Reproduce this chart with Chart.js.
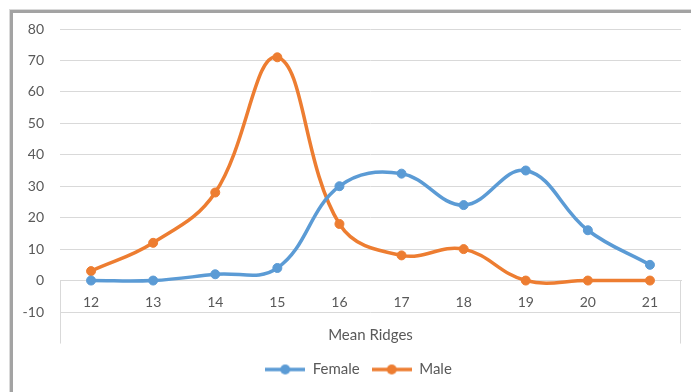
<!DOCTYPE html>
<html>
<head>
<meta charset="utf-8">
<script src="https://cdn.jsdelivr.net/npm/chart.js@4"></script>
<style>
  html, body { margin: 0; padding: 0; background: #fff; overflow: hidden; }
  #frame {
    position: absolute; left: 9px; top: 9px; width: 720px; height: 420px;
    border-left: 1px solid #dadada; border-top: 1px solid #dadada;
  }
  #frame-inner {
    width: 100%; height: 100%;
    border-left: 3px solid #a3a3a3; border-top: 3px solid #a3a3a3;
  }
  #prod-chart { position: absolute; left: 0; top: 0; }
</style>
</head>
<body>
<div id="frame"><div id="frame-inner"></div></div>
<canvas id="prod-chart" width="691" height="392"></canvas>
<script>
'use strict';
// ******* DATA ********
let ridges = ['12', '13', '14', '15', '16', '17', '18', '19', '20', '21'];
let female = [0, 0, 2, 4, 30, 34, 24, 35, 16, 5];
let male = [3, 12, 28, 71, 18, 8, 10, 0, 0, 0];
let yTicks = [-10, 0, 10, 20, 30, 40, 50, 60, 70, 80];
let axisTitle = 'Mean Ridges';

let blue = '#5b9bd5';
let orange = '#ed7d31';
let textColor = '#595959';
let fontName = 'Lato, "Open Sans", sans-serif';

// legend marker: short line with a dot
function legendMarker(color) {
  let c = document.createElement('canvas');
  c.width = 40;
  c.height = 12;
  let ctx = c.getContext('2d');
  ctx.strokeStyle = color;
  ctx.lineWidth = 3.5;
  ctx.beginPath();
  ctx.moveTo(0, 6);
  ctx.lineTo(40, 6);
  ctx.stroke();
  ctx.fillStyle = color;
  ctx.beginPath();
  ctx.arc(20, 6, 5, 0, Math.PI * 2);
  ctx.fill();
  return c;
}
let markers = [legendMarker(blue), legendMarker(orange)];

// group label + separators below the category axis
let groupAxis = {
  id: 'groupAxis',
  afterLayout(chart) {
    // legend sits centred under the plot area, not the whole canvas
    chart.legend.left += 18;
    chart.legend.right += 18;
  },
  afterDraw(chart) {
    let ctx = chart.ctx;
    let area = chart.chartArea;
    let y0 = chart.scales.y.getPixelForValue(0);
    ctx.save();
    ctx.strokeStyle = '#d9d9d9';
    ctx.lineWidth = 1;
    ctx.beginPath();
    ctx.moveTo(area.left + 0.5, y0);
    ctx.lineTo(area.left + 0.5, y0 + 63);
    ctx.moveTo(area.right - 0.5, y0);
    ctx.lineTo(area.right - 0.5, y0 + 63);
    ctx.stroke();
    ctx.fillStyle = textColor;
    ctx.font = '15px ' + fontName;
    ctx.textAlign = 'center';
    ctx.textBaseline = 'middle';
    ctx.fillText(axisTitle, (area.left + area.right) / 2, y0 + 55);
    ctx.restore();
  }
};

let canvasElem = document.getElementById('prod-chart');

new Chart(canvasElem, { // eslint-disable-line
  type: 'line',
  data: {
    labels: ridges,
    datasets: [{
      label: 'Female',
      data: female,
      borderColor: blue,
      backgroundColor: blue,
      borderWidth: 3.5,
      pointRadius: 4.5,
      pointBorderWidth: 1,
      tension: 0.4
    },
    {
      label: 'Male',
      data: male,
      borderColor: orange,
      backgroundColor: orange,
      borderWidth: 3.5,
      pointRadius: 4.5,
      pointBorderWidth: 1,
      tension: 0.4
    }]
  },
  options: {
    responsive: false,
    animation: false,
    layout: { padding: { left: 0, right: 10, top: 29, bottom: 5 } },
    scales: {
      x: {
        position: { y: 0 },
        offset: true,
        grid: { display: false, drawTicks: false },
        border: { display: true, color: '#d9d9d9', width: 1 },
        ticks: { color: textColor, font: { family: fontName, size: 14 }, padding: 14 }
      },
      // empty box that reserves the room under the plot
      xg: {
        type: 'category',
        position: 'bottom',
        grid: { display: false, drawTicks: false },
        border: { display: false },
        ticks: { display: false },
        afterFit(scale) { scale.height = 38; }
      },
      y: {
        min: -10,
        max: 80,
        afterBuildTicks(scale) { scale.ticks = yTicks.map(v => ({ value: v })); },
        grid: { color: '#d9d9d9', lineWidth: 1, drawTicks: false },
        border: { display: false },
        ticks: { color: textColor, font: { family: fontName, size: 14 }, padding: 16 },
        afterFit(scale) { scale.width = 60; }
      }
    },
    plugins: {
      legend: {
        position: 'bottom',
        labels: {
          usePointStyle: true,
          pointStyleWidth: 40,
          color: textColor,
          font: { family: fontName, size: 15 },
          padding: 12,
          generateLabels(chart) {
            let items = Chart.defaults.plugins.legend.labels.generateLabels(chart); // eslint-disable-line
            items.forEach((it, i) => { it.pointStyle = markers[i]; });
            return items;
          }
        }
      },
      tooltip: { enabled: false }
    }
  },
  plugins: [groupAxis]
});
</script>
</body>
</html>
